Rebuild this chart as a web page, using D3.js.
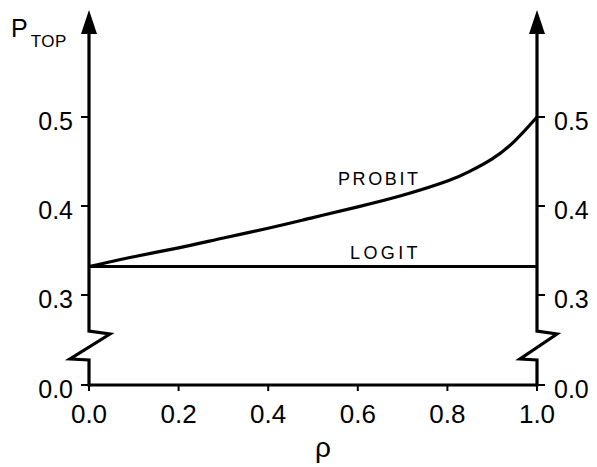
<!DOCTYPE html>
<html>
<head>
<meta charset="utf-8">
<script src="https://cdn.jsdelivr.net/npm/d3@7"></script>
<style>
  html, body { margin: 0; padding: 0; background: #fff; }
  svg { display: block; }
  text { font-family: "Liberation Sans", Arial, sans-serif; fill: #000; }
</style>
</head>
<body>
<svg id="chart" width="597" height="467"></svg>
<script>
// ---- data ----
const rho = [0, 0.1, 0.2, 0.3, 0.4, 0.5, 0.6, 0.7, 0.8, 0.85, 0.9, 0.95, 1.0];
const probit = [0.332, 0.343, 0.353, 0.364, 0.375, 0.387, 0.399, 0.412, 0.428, 0.439, 0.453, 0.473, 0.500];
const logit = [0.332, 0.332, 0.332, 0.332, 0.332, 0.332, 0.332, 0.332, 0.332, 0.332, 0.332, 0.332, 0.332];
const xTicks = [0, 0.2, 0.4, 0.6, 0.8, 1.0];
const yTicks = [0.0, 0.3, 0.4, 0.5];
const seriesLabels = ["PROBIT", "LOGIT"];

// ---- layout ----
const svg = d3.select("#chart");
const x = d3.scaleLinear().domain([0, 1]).range([89, 537]);
// broken axis: 0.0 .. 0.3 compressed
const y = d3.scaleLinear().domain([0, 0.3, 0.5]).range([385, 295, 117]);

const black = "#000";
const sw = 3.2;

// curves
const line = d3.line().x(d => x(d[0])).y(d => y(d[1])).curve(d3.curveNatural);
svg.append("path")
  .attr("d", line(rho.map((r, i) => [r, logit[i]])))
  .attr("fill", "none").attr("stroke", black).attr("stroke-width", sw);
svg.append("path")
  .attr("d", line(rho.map((r, i) => [r, probit[i]])))
  .attr("fill", "none").attr("stroke", black).attr("stroke-width", sw);

// vertical axes with break
function vAxis(x0, side) {
  const yTop = 30;
  const yb1 = 331, yb2 = 360;
  const pts = [
    [x0, yTop],
    [x0, yb1],
    [x0 + (side < 0 ? 21 : 20), yb1 + 3],
    [x0 - (side < 0 ? 19 : 17), yb2 - 1],
    [x0, yb2],
    [x0, y(0) + 1.5]
  ];
  svg.append("path")
    .attr("d", d3.line()(pts))
    .attr("fill", "none").attr("stroke", black).attr("stroke-width", sw)
    .attr("stroke-linejoin", "miter");
  // arrow head
  svg.append("path")
    .attr("d", `M${x0},10 L${x0 - 8},34 L${x0 + 8},34 Z`)
    .attr("fill", black);
  // ticks and labels
  const g = svg.append("g");
  yTicks.forEach(t => {
    const yy = y(t);
    g.append("line")
      .attr("x1", x0).attr("x2", x0 + side * 8)
      .attr("y1", yy).attr("y2", yy)
      .attr("stroke", black).attr("stroke-width", 2);
    g.append("text")
      .attr("x", side < 0 ? x0 - 16 : x0 + 17)
      .attr("y", yy + 12.5)
      .attr("text-anchor", side < 0 ? "end" : "start")
      .attr("font-size", 25)
      .text(t.toFixed(1));
  });
}
vAxis(x(0), -1);
vAxis(x(1), 1);

// x axis
svg.append("line")
  .attr("x1", x(0)).attr("x2", x(1))
  .attr("y1", y(0)).attr("y2", y(0))
  .attr("stroke", black).attr("stroke-width", sw);
const xg = svg.append("g");
xTicks.forEach(t => {
  xg.append("line")
    .attr("x1", x(t)).attr("x2", x(t))
    .attr("y1", y(0)).attr("y2", y(0) + 6)
    .attr("stroke", black).attr("stroke-width", 2);
  xg.append("text")
    .attr("x", x(t)).attr("y", 423)
    .attr("text-anchor", "middle")
    .attr("font-size", 26)
    .text(t.toFixed(1));
});

// axis titles
svg.append("text").attr("x", 323).attr("y", 457)
  .attr("text-anchor", "middle").attr("font-size", 28).text("ρ");
const pt = svg.append("text").attr("x", 11).attr("y", 37).attr("font-size", 25);
pt.append("tspan").text("P");
pt.append("tspan").attr("font-size", 17).attr("dy", 10).attr("dx", 3).attr("letter-spacing", 0.5).text("TOP");

// series labels
svg.append("text").attr("x", 338).attr("y", 185)
  .attr("font-size", 18).attr("letter-spacing", 2.6).text(seriesLabels[0]);
svg.append("text").attr("x", 350).attr("y", 259)
  .attr("font-size", 18).attr("letter-spacing", 3.4).text(seriesLabels[1]);
</script>
</body>
</html>
